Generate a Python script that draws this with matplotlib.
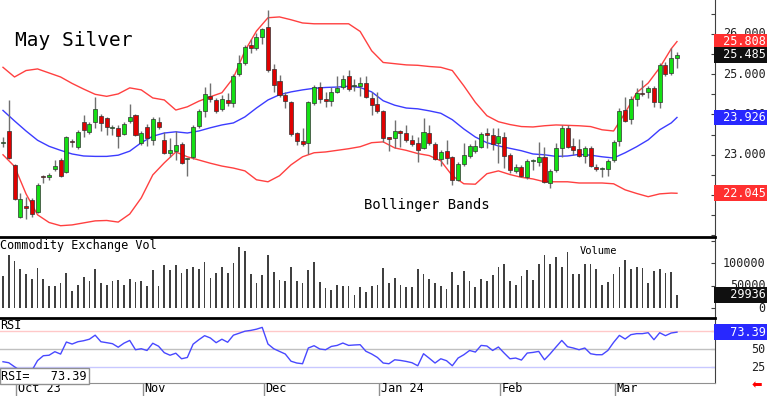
import matplotlib
matplotlib.use("Agg")
import matplotlib.pyplot as plt
import matplotlib.transforms as mtransforms
import numpy as np

# ---------------------------------------
# Data (May silver, daily bars)
# ---------------------------------------

opens = [23.28, 23.59, 22.75, 21.46, 21.74, 21.88, 21.58, 22.47, 22.46, 22.65,
         22.87, 22.58, 23.34, 23.20, 23.82, 23.57, 23.82, 23.97, 23.92, 23.66,
         23.67, 23.52, 23.84, 23.99, 23.30, 23.69, 23.37, 23.82, 23.37, 23.05,
         23.10, 23.27, 22.90, 22.95, 23.72, 24.09, 24.46, 24.36, 24.14, 24.36,
         24.29, 25.00, 25.28, 25.73, 25.65, 25.93, 26.17, 25.13, 24.83, 24.49,
         24.31, 23.54, 23.35, 23.29, 24.29, 24.68, 24.39, 24.34, 24.56, 24.68,
         24.96, 24.70, 24.71, 24.78, 24.41, 24.26, 24.09, 23.43, 23.42, 23.59,
         23.54, 23.37, 23.30, 23.17, 23.54, 23.27, 22.90, 23.10, 22.95, 22.38,
         22.77, 22.97, 23.10, 23.20, 23.54, 23.49, 23.30, 23.44, 23.00, 22.60,
         22.70, 22.45, 22.84, 22.82, 22.95, 22.30, 22.63, 23.17, 23.67, 23.22,
         23.15, 22.97, 23.17, 22.70, 22.64, 22.65, 22.87, 23.35, 24.11, 23.89,
         24.39, 24.54, 24.56, 24.66, 24.31, 25.23, 25.03, 25.40]

highs = [23.44, 24.36, 22.78, 22.05, 21.96, 21.93, 22.30, 22.50, 22.55, 22.87,
         22.92, 23.47, 23.40, 23.62, 23.99, 23.82, 24.43, 24.00, 23.94, 23.74,
         23.74, 23.82, 24.26, 24.02, 23.59, 23.77, 23.94, 23.94, 23.57, 23.42,
         23.60, 23.32, 22.93, 23.74, 24.14, 24.68, 24.78, 24.41, 24.49, 24.54,
         25.01, 25.48, 25.73, 25.88, 26.03, 26.15, 26.60, 25.26, 24.98, 24.56,
         24.33, 23.57, 23.67, 24.33, 24.73, 24.81, 24.56, 24.68, 24.96, 24.98,
         25.10, 24.88, 24.93, 24.96, 24.56, 24.56, 24.11, 23.45, 23.87, 23.62,
         23.74, 23.49, 23.44, 23.92, 23.74, 23.32, 23.12, 23.37, 22.98, 22.82,
         23.30, 23.27, 23.37, 23.57, 23.67, 23.67, 23.67, 23.57, 23.05, 22.77,
         22.75, 22.90, 22.90, 23.32, 23.20, 22.65, 23.30, 23.74, 23.74, 23.42,
         23.40, 23.22, 23.22, 22.77, 22.70, 22.90, 23.37, 24.16, 24.43, 24.46,
         24.66, 24.86, 24.71, 24.71, 25.28, 25.31, 25.65, 25.55]

lows = [23.20, 22.90, 21.88, 21.43, 21.41, 21.45, 21.55, 22.30, 22.38, 22.60,
        22.45, 22.55, 23.20, 23.15, 23.44, 23.52, 23.67, 23.60, 23.50, 23.50,
        23.17, 23.49, 23.79, 23.46, 23.25, 23.22, 23.25, 23.64, 23.02, 22.95,
        22.87, 22.77, 22.48, 22.90, 23.67, 23.94, 24.31, 24.04, 24.09, 24.21,
        24.19, 24.96, 25.23, 25.53, 25.60, 25.75, 25.06, 24.56, 24.44, 24.16,
        23.47, 23.25, 23.22, 23.02, 24.24, 24.29, 24.19, 24.21, 24.54, 24.63,
        24.59, 24.59, 24.46, 24.42, 23.99, 24.04, 23.32, 23.10, 23.17, 23.20,
        23.32, 23.22, 22.82, 23.15, 23.25, 22.87, 22.72, 22.77, 22.25, 22.35,
        22.72, 22.92, 23.05, 23.17, 23.17, 23.12, 22.80, 22.67, 22.55, 22.55,
        22.45, 22.40, 22.62, 22.72, 22.30, 22.18, 22.58, 22.95, 23.17, 23.00,
        22.95, 22.80, 22.70, 22.60, 22.45, 22.48, 22.82, 23.22, 23.82, 23.77,
        24.21, 24.46, 24.41, 24.19, 24.16, 24.96, 24.98, 25.15]

closes = [23.32, 22.92, 21.90, 21.90, 21.69, 21.53, 22.25, 22.44, 22.49, 22.72,
          22.48, 23.44, 23.31, 23.57, 23.62, 23.77, 24.14, 23.79, 23.69, 23.69,
          23.47, 23.77, 23.94, 23.49, 23.54, 23.42, 23.89, 23.69, 23.05, 23.12,
          23.25, 22.80, 22.90, 23.69, 24.09, 24.51, 24.39, 24.09, 24.39, 24.29,
          24.96, 25.28, 25.68, 25.65, 25.93, 26.12, 25.10, 24.73, 24.49, 24.34,
          23.52, 23.35, 23.27, 24.31, 24.68, 24.39, 24.34, 24.56, 24.66, 24.88,
          24.64, 24.72, 24.78, 24.44, 24.24, 24.09, 23.42, 23.40, 23.59, 23.54,
          23.37, 23.27, 23.12, 23.57, 23.30, 22.90, 23.07, 22.92, 22.38, 22.77,
          23.00, 23.22, 23.22, 23.52, 23.49, 23.27, 23.47, 22.97, 22.63, 22.70,
          22.48, 22.85, 22.86, 22.95, 22.33, 22.60, 23.17, 23.67, 23.20, 23.12,
          22.97, 23.17, 22.72, 22.65, 22.66, 22.85, 23.32, 24.09, 23.84, 24.39,
          24.54, 24.51, 24.66, 24.31, 25.23, 25.00, 25.40, 25.485]

# volume in thousands of contracts
volume_k = [71, 118, 104, 86, 75, 64, 90, 64, 50, 50,
            56, 79, 39, 52, 69, 61, 88, 55, 51, 60,
            63, 51, 65, 58, 61, 50, 84, 50, 96, 85,
            95, 79, 88, 92, 88, 103, 67, 77, 91, 79,
            100, 135, 126, 76, 55, 73, 118, 80, 62, 61,
            91, 61, 56, 85, 103, 59, 45, 40, 51, 49,
            49, 30, 47, 37, 49, 51, 90, 56, 66, 52,
            47, 47, 86, 76, 64, 55, 49, 43, 81, 52,
            82, 61, 47, 64, 60, 73, 91, 97, 61, 52,
            71, 84, 62, 99, 118, 99, 114, 91, 124, 76,
            75, 97, 99, 88, 52, 58, 75, 91, 107, 88,
            92, 90, 55, 82, 88, 79, 81, 29.936]

rsi = [32.4, 31.0, 25.4, 20.0, 18.0, 20.0, 34.0, 40.7, 41.4, 46.3,
       43.0, 59.7, 56.9, 60.1, 61.5, 63.6, 69.2, 60.1, 58.8, 57.4,
       52.5, 58.1, 61.9, 49.0, 50.4, 48.0, 58.0, 53.9, 44.9, 41.4,
       44.2, 36.5, 38.3, 56.7, 62.9, 68.5, 65.3, 58.8, 63.6, 59.4,
       69.2, 71.9, 74.7, 75.8, 77.5, 80.0, 56.9, 50.4, 46.7, 43.1,
       33.1, 30.6, 29.6, 51.4, 54.6, 50.0, 49.0, 53.6, 55.0, 58.3,
       55.0, 55.6, 56.0, 46.9, 43.1, 38.3, 30.6, 29.6, 35.1, 34.2,
       32.8, 31.0, 26.8, 43.5, 37.2, 30.6, 36.5, 33.8, 26.8, 37.5,
       42.1, 48.0, 45.8, 55.0, 54.2, 48.0, 52.8, 44.4, 36.5, 37.5,
       34.7, 44.4, 45.3, 46.7, 35.1, 43.5, 52.8, 61.9, 53.2, 51.4,
       49.0, 51.4, 43.5, 42.1, 42.1, 48.0, 59.2, 68.9, 63.9, 69.9,
       71.3, 71.3, 72.6, 62.9, 72.6, 68.5, 72.2, 73.39]

# Bollinger bands, read every second bar (plus the last one)
band_idx = list(range(0, 118, 2)) + [117]
bb_upper = [25.17, 24.93, 25.09, 25.13, 25.03, 24.93, 24.77, 24.63, 24.50, 24.45,
            24.51, 24.66, 24.61, 24.41, 24.36, 24.11, 24.19, 24.33, 24.44, 24.54,
            24.91, 25.58, 26.07, 26.40, 26.42, 26.35, 26.27, 26.25, 26.25, 26.25,
            26.25, 26.06, 25.58, 25.29, 25.26, 25.23, 25.22, 25.19, 25.17, 25.09,
            24.71, 24.30, 23.97, 23.82, 23.75, 23.70, 23.69, 23.72, 23.74, 23.73,
            23.72, 23.70, 23.62, 23.59, 24.04, 24.54, 24.78, 25.16, 25.63, 25.808]
bb_mid = [24.10, 23.84, 23.59, 23.36, 23.21, 23.11, 23.02, 22.97, 22.96, 22.96,
          22.99, 23.09, 23.30, 23.46, 23.54, 23.57, 23.54, 23.59, 23.67, 23.74,
          23.79, 23.94, 24.16, 24.36, 24.49, 24.56, 24.61, 24.65, 24.67, 24.68,
          24.70, 24.67, 24.56, 24.34, 24.23, 24.16, 24.14, 24.09, 24.03, 23.87,
          23.64, 23.44, 23.30, 23.22, 23.16, 23.10, 23.02, 23.00, 22.96, 22.97,
          23.01, 22.99, 22.95, 22.92, 23.05, 23.20, 23.37, 23.62, 23.79, 23.926]
bb_lower = [23.00, 22.71, 22.03, 21.51, 21.32, 21.24, 21.26, 21.31, 21.36, 21.37,
            21.33, 21.53, 21.93, 22.50, 22.80, 23.07, 22.95, 22.87, 22.79, 22.72,
            22.67, 22.60, 22.38, 22.33, 22.48, 22.75, 22.95, 23.05, 23.07, 23.11,
            23.15, 23.20, 23.30, 23.32, 23.17, 23.11, 23.03, 22.98, 22.85, 22.48,
            22.28, 22.27, 22.53, 22.60, 22.51, 22.44, 22.40, 22.33, 22.33, 22.33,
            22.30, 22.30, 22.30, 22.28, 22.13, 22.04, 21.96, 22.03, 22.05, 22.045]

# first trading day of each month (bar index) and its label
month_idx = [3, 25, 46, 66, 87, 107]
month_labels = ["Oct 23", "Nov", "Dec", "Jan 24", "Feb", "Mar"]

# scale labels that are not hidden under a value tag
price_ticks = [23, 24, 25, 26]
vol_ticks = [0, 50000, 100000]
rsi_ticks = [25, 50]

# ---------------------------------------
# Figure
# ---------------------------------------

MONO = "DejaVu Sans Mono"
GREEN = "#14e014"
RED = "#e00000"

fig = plt.figure(figsize=(7.68, 3.96), dpi=100)
fig.patch.set_facecolor("white")

right = 715 / 768
ax_p = fig.add_axes([0, 1 - 237 / 396, right, 237 / 396])
ax_v = fig.add_axes([0, 1 - 318 / 396, right, 81 / 396])
ax_r = fig.add_axes([0, 1 - 382.5 / 396, right, 64.5 / 396])

x = np.arange(len(closes))
o = np.array(opens)
c = np.array(closes)

# candles
ax_p.vlines(x, lows, highs, color="#707070", lw=1, zorder=2)
up = c >= o
body = np.maximum(np.abs(c - o), 0.03)
ax_p.bar(x, body, bottom=np.minimum(o, c), width=0.7,
         color=np.where(up, GREEN, RED), edgecolor="#303030", linewidth=0.5, zorder=3)

# bands
ax_p.plot(band_idx, bb_upper, color="#ff4040", lw=1, zorder=1)
ax_p.plot(band_idx, bb_lower, color="#ff4040", lw=1, zorder=1)
ax_p.plot(band_idx, bb_mid, color="#3c3cff", lw=1, zorder=1)

ax_p.set_ylim(20.96, 26.84)

# volume
ax_v.bar(x, np.array(volume_k) * 1000, width=0.3, color="#404040")
ax_v.set_ylim(-21800, 158000)

# RSI
ax_r.axhline(75, color="#ffc8c8", lw=1)
ax_r.axhline(50, color="#c0c0c0", lw=1)
ax_r.axhline(25, color="#c8c8ff", lw=1)
ax_r.plot(x, rsi, color="#4848ff", lw=1)
ax_r.set_ylim(3.6, 93)

for ax in (ax_p, ax_v, ax_r):
    ax.set_xlim(-0.52, 123.6)
    ax.set_facecolor("none")
    ax.spines["left"].set_visible(False)
    ax.spines["right"].set_color("#404040")
    ax.yaxis.tick_right()
    ax.tick_params(axis="y", direction="in", length=3, color="#404040",
                   labelright=False, labelleft=False)
    ax.tick_params(axis="x", bottom=False, labelbottom=False)

ax_p.spines["top"].set_visible(False)
ax_p.spines["bottom"].set_visible(False)
ax_p.set_yticks(np.arange(21, 27, 0.5))
ax_v.spines["top"].set_linewidth(2)
ax_v.spines["bottom"].set_visible(False)
ax_v.set_yticks([0, 50000, 100000, 150000])
ax_r.spines["top"].set_linewidth(2)
ax_r.spines["bottom"].set_color("#909090")
ax_r.set_yticks([25, 50, 75])

# month ticks under the RSI panel
ax_r.set_xticks([m - 0.75 for m in month_idx])
ax_r.tick_params(axis="x", bottom=True, direction="out", length=10,
                 color="#909090", width=1)
for m, lab in zip(month_idx, month_labels):
    ax_r.text(m - 0.45, -0.1, lab, transform=ax_r.get_xaxis_transform(),
              ha="left", va="center", fontsize=8.5, family=MONO)

# right-hand scale labels
def scale_label(ax, y, text):
    tr = mtransforms.blended_transform_factory(fig.transFigure, ax.transData)
    ax.text(0.997, y, text, transform=tr, ha="right", va="center",
            fontsize=8.5, family=MONO, color="#202020")


def tag(ax, y, text, color):
    tr = mtransforms.blended_transform_factory(fig.transFigure, ax.transData)
    ax.text(0.997, y, text.rjust(7), transform=tr, ha="right", va="center",
            fontsize=8.5, family=MONO, color="white", zorder=10,
            bbox=dict(boxstyle="square,pad=0.12", fc=color, ec="none"))


for t in price_ticks:
    scale_label(ax_p, t, f"{t:.3f}")
for t in vol_ticks:
    scale_label(ax_v, t, str(t))
for t in rsi_ticks:
    scale_label(ax_r, t, str(t))

tag(ax_p, bb_upper[-1], f"{bb_upper[-1]:.3f}", "#ff3030")
tag(ax_p, closes[-1], f"{closes[-1]:.3f}", "#101010")
tag(ax_p, bb_mid[-1], f"{bb_mid[-1]:.3f}", "#2828ff")
tag(ax_p, bb_lower[-1], f"{bb_lower[-1]:.3f}", "#ff3030")
tag(ax_v, volume_k[-1] * 1000, f"{volume_k[-1] * 1000:.0f}", "#101010")
tag(ax_r, rsi[-1], f"{rsi[-1]:.2f}", "#2828ff")

# panel captions
fig.text(15 / 768, 1 - 40 / 396, "May Silver", fontsize=14, family=MONO,
         va="center", ha="left")
fig.text(364 / 768, 1 - 205 / 396, "Bollinger Bands", fontsize=10, family=MONO,
         va="center", ha="left")
ax_v.text(0.0, 0.9, "Commodity Exchange Vol", transform=ax_v.transAxes,
          fontsize=8.5, family=MONO, va="center", ha="left")
ax_v.text(598 / 715, 0.83, "Volume", transform=ax_v.transAxes,
          fontsize=7.5, family=MONO, va="center", ha="center")
ax_r.text(0.0, 0.89, "RSI", transform=ax_r.transAxes,
          fontsize=8.5, family=MONO, va="center", ha="left")
ax_r.text(0.002, 0.1, f"RSI=   {rsi[-1]:.2f}", transform=ax_r.transAxes,
          fontsize=8.5, family=MONO, va="center", ha="left", zorder=10,
          bbox=dict(boxstyle="square,pad=0.15", fc="white", ec="#909090", lw=1))

fig.text(0.993, 0.025, "\u2b05", color="red", fontsize=9, ha="right", va="center")

fig.savefig("out.png", dpi=100)
